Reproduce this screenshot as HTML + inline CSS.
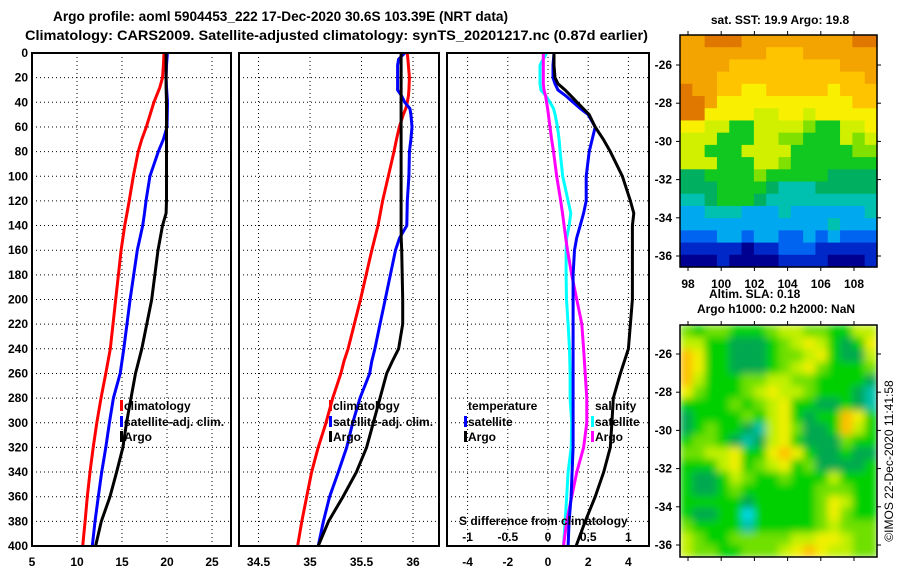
<!DOCTYPE html>
<html><head><meta charset="utf-8"><style>
body{margin:0;background:#fff}
svg{display:block;font-family:"Liberation Sans",sans-serif}
text{font-weight:bold;font-size:12px;fill:#000}
</style></head><body>
<svg id="c" width="900" height="580" viewBox="0 0 900 580">
<defs>
<filter id="bl" x="0" y="0" width="1" height="1"><feGaussianBlur stdDeviation="4" edgeMode="duplicate"/></filter>
<clipPath id="cp2"><rect x="680" y="325" width="197" height="232"/></clipPath>
</defs>
<rect width="900" height="580" fill="#fff"/>
<text x="53" y="21" textLength="455" lengthAdjust="spacingAndGlyphs" style="font-size:14px">Argo profile: aoml 5904453_222 17-Dec-2020 30.6S 103.39E (NRT data)</text>
<text x="25" y="40" textLength="623" lengthAdjust="spacingAndGlyphs" style="font-size:14px">Climatology: CARS2009. Satellite-adjusted climatology: synTS_20201217.nc (0.87d earlier)</text>
<g id="g"></g>
</svg>
<script>
// ---- profile data ----
const depthT=[0,10,20,28,40,60,70,80,100,120,130,140,160,200,240,260,280,300,320,340,360,380,400];
const tClim=[19.67,19.6,19.5,19.2,18.55,17.7,17.2,16.8,16.25,15.8,15.55,15.3,14.9,14.3,13.7,13.2,12.67,12.2,11.8,11.44,11.15,10.9,10.63];
const tSat=[20.04,19.95,19.9,19.95,20.06,20.0,19.6,19.03,18.1,17.67,17.5,17.3,16.7,15.9,15.2,14.8,14.04,13.6,13.2,12.74,12.37,12.0,11.7];
const tArgo=[19.9,19.9,19.9,19.9,19.95,19.95,19.95,19.95,19.95,19.95,19.9,19.5,19.0,18.3,17.2,16.5,16.0,15.5,15.1,14.4,13.67,12.7,12.07];
const depthS=[0,5,10,20,30,35,40,45,50,60,70,80,100,120,140,150,160,200,220,240,250,260,280,300,320,340,360,380,400];
const sClim=[35.945,35.95,35.955,35.965,35.96,35.955,35.945,35.93,35.906,35.867,35.84,35.816,35.76,35.705,35.66,35.63,35.6,35.49,35.43,35.37,35.33,35.3,35.22,35.155,35.08,35.016,34.968,34.92,34.88];
const sSat=[35.92,35.86,35.85,35.85,35.85,35.89,35.92,35.97,35.98,35.99,35.98,35.965,35.96,35.945,35.94,35.87,35.83,35.73,35.68,35.63,35.6,35.58,35.485,35.415,35.356,35.275,35.19,35.13,35.08];
const sArgo=[35.884,35.884,35.884,35.884,35.884,35.884,35.884,35.884,35.884,35.884,35.884,35.884,35.884,35.884,35.884,35.885,35.89,35.9,35.9,35.86,35.8,35.745,35.68,35.615,35.55,35.45,35.32,35.18,35.08];
const depthD=[0,10,20,25,30,35,40,45,50,60,70,80,100,120,130,140,150,160,180,200,220,240,260,280,300,320,340,360,380,400];
const dTSat=[0.3,0.25,0.25,0.35,0.5,0.9,1.25,1.6,2.0,2.35,2.2,2.05,1.9,1.9,1.77,1.6,1.43,1.32,1.25,1.25,1.25,1.25,1.25,1.25,1.25,1.25,1.2,1.15,1.05,1.0];
const dTArgo=[0.3,0.3,0.35,0.5,0.85,1.15,1.45,1.75,2.05,2.35,2.75,3.1,3.7,4.1,4.27,4.2,4.2,4.2,4.2,4.2,4.1,4.0,3.6,3.25,3.18,3.1,2.77,2.35,1.85,1.4];
const dSSat=[-0.018,-0.1,-0.1,-0.1,-0.088,-0.025,0.025,0.068,0.088,0.118,0.138,0.15,0.183,0.25,0.283,0.263,0.233,0.225,0.225,0.23,0.25,0.268,0.275,0.275,0.295,0.288,0.25,0.233,0.213,0.193];
const dSArgo=[-0.058,-0.058,-0.058,-0.058,-0.05,-0.03,-0.018,-0.005,0.005,0.025,0.045,0.068,0.108,0.158,0.18,0.2,0.22,0.243,0.295,0.358,0.42,0.443,0.463,0.483,0.483,0.443,0.358,0.295,0.233,0.193];
const tTicks=[5,10,15,20,25];
const sTicks=[34.5,35,35.5,36];
const dTicks=[-4,-2,0,2,4];
const dSTicks=[-1,-0.5,0,0.5,1];
const depthTicks=[0,20,40,60,80,100,120,140,160,180,200,220,240,260,280,300,320,340,360,380,400];
// ---- map data (rows north->south, 16 lon columns) ----
const sstRows=["BBCCCBBBBBBBBBCC","BBBBBBBAAABBBBBB","BBBBAAAAAAAAABBB","BBBAAAAAAAAAAAAB","CBBAA99AAAAA9AAA","CCB99999999999AA","CC99998899899999","9988668888766889","8886668877666878","8866688886666677","8886668876666666","5566667666665555","5556666544455555","4456665444444444","3344433343333334","3333333333334333","2223323322323222","1111101122211111","0001000011110001"];
const slaRows=["7677666788776688","8866555678986569","A966555677896558","A966555678976667","A866677887766665","9766678988766654","6666767896655654","5666676896566A96","5676654897556A86","6776545896555766","77889669A9655655","6668967896755556","6556876676668666","6556766666677766","6666656666679866","6556636666679766","7666646666678777","8766777778899877","8776677789A98877"];
const lonTicks=[98,100,102,104,106,108];
const latTicks=[-26,-28,-30,-32,-34,-36];
const sstPal={"0":"#000090","1":"#0028c8","2":"#0064f0","3":"#00a8f0","4":"#00c0b0","5":"#00b060","6":"#10c820","7":"#80e000","8":"#d0f000","9":"#f8f000","A":"#ffc400","B":"#f4a400","C":"#e07800"};
const slaPal={"3":"#00d8e8","4":"#00c0a8","5":"#00a850","6":"#00d000","7":"#70e000","8":"#c0f000","9":"#f0f000","A":"#ffc000","B":"#ff9800"};

const NS="http://www.w3.org/2000/svg";
const G=document.getElementById('g');
function mk(tag,at,txt,par){const e=document.createElementNS(NS,tag);for(const k in at)e.setAttribute(k,at[k]);if(txt!==undefined)e.textContent=txt;(par||G).appendChild(e);return e;}
const yD=d=>53+d*493/400;
const x1=v=>32+(v-5)*9.0;
const x2=v=>310+(v-35)*103;
const x3=v=>548+v*20.1;
const x3s=v=>548+v*80.4;
const panels=[[32,199,'temperature-panel'],[239,200,'salinity-panel'],[447,202,'difference-panel']];

depthTicks.forEach(d=>{
  const t=mk('text',{x:28,y:yD(d)+4,'text-anchor':'end'},String(d));
  
  
});
function grid(px,pw,xs,xf){
  depthTicks.slice(1,-1).forEach(d=>{
    const l=mk('line',{x1:px,x2:px+pw,y1:yD(d),y2:yD(d),stroke:'#000','stroke-width':1,'stroke-dasharray':'1,3'});
    
    
  });
  xs.forEach(v=>{const X=xf(v);if(X>px+2&&X<px+pw-2){
    const l=mk('line',{x1:X,x2:X,y1:53,y2:546,stroke:'#000','stroke-width':1,'stroke-dasharray':'1,3'});
    
    }
  });
}
grid(32,199,tTicks,x1);grid(239,200,sTicks,x2);grid(447,202,dTicks,x3);
function lab(xs,xf,y,nm){xs.forEach(v=>{
  const t=mk('text',{x:xf(v),y:y,'text-anchor':'middle'},String(v));
  
  
});}
lab(tTicks,x1,566,'temperature-tick-label');
lab(sTicks,x2,566,'salinity-tick-label');
lab(dTicks,x3,566,'t-difference-tick-label');
lab(dSTicks,x3s,541,'s-difference-tick-label');
function line(ds,vs,xf,col,nm){
  const pts=ds.map((d,i)=>xf(vs[i]).toFixed(1)+','+yD(d).toFixed(1)).join(' ');
  const p=mk('polyline',{points:pts,fill:'none',stroke:col,'stroke-width':3,'stroke-linejoin':'miter'});
  
  
}
line(depthT,tClim,x1,'#ff0000','temp-climatology-line');
line(depthT,tSat,x1,'#0000ff','temp-satellite-line');
line(depthT,tArgo,x1,'#000000','temp-argo-line');
line(depthS,sClim,x2,'#ff0000','sal-climatology-line');
line(depthS,sSat,x2,'#0000ff','sal-satellite-line');
line(depthS,sArgo,x2,'#000000','sal-argo-line');
line(depthD,dSSat,x3s,'#00ffff','s-diff-satellite-line');
line(depthD,dSArgo,x3s,'#ff00ff','s-diff-argo-line');
line(depthD,dTSat,x3,'#0000ff','t-diff-satellite-line');
line(depthD,dTArgo,x3,'#000000','t-diff-argo-line');
panels.forEach(p=>{
  const r=mk('rect',{x:p[0],y:53,width:p[1],height:493,fill:'none',stroke:'#000','stroke-width':2});
  
  
});
function leg(x,y,col,txt,nm){
  const r=mk('rect',{x:x,y:y-10,width:3,height:11,fill:col});
  
  
  const t=mk('text',{x:x+4,y:y},txt);
  
  
}
leg(120,410,'#ff0000','climatology','legend-climatology');
leg(120,426,'#0000ff','satellite-adj. clim.','legend-satellite-adj');
leg(120,441,'#000000','Argo','legend-argo');
leg(329,410,'#ff0000','climatology','legend2-climatology');
leg(329,426,'#0000ff','satellite-adj. clim.','legend2-satellite-adj');
leg(329,441,'#000000','Argo','legend2-argo');
let t=mk('text',{x:468,y:410},'temperature');


t=mk('text',{x:595,y:410},'salinity');


leg(464,426,'#0000ff','satellite','legend-t-satellite');
leg(464,441,'#000000','Argo','legend-t-argo');
leg(591,426,'#00ffff','satellite','legend-s-satellite');
leg(591,441,'#ff00ff','Argo','legend-s-argo');
t=mk('text',{x:459,y:525},'S difference from climatology');



function map(rows,pal,top,nm,latY0,smooth){
  const W=197,H=232,X=680,nr=rows.length,nc=rows[0].length;
  let par=G;
  if(smooth){
    const outer=mk('g',{'clip-path':'url(#cp2)'});
    
    
    par=mk('g',{filter:'url(#bl)'},undefined,outer);
  }
  rows.forEach((row,ri)=>{[...row].forEach((ch,ci)=>{
    const c=mk('rect',{x:(X+ci*W/nc).toFixed(2),y:(top+ri*H/nr).toFixed(2),width:(W/nc+0.6).toFixed(2),height:(H/nr+0.6).toFixed(2),fill:pal[ch]},undefined,par);
    
    
  });});
  const b=mk('rect',{x:X,y:top,width:W,height:H,fill:'none',stroke:'#000','stroke-width':1.5});
  
  
  const lonX=v=>688+(v-98)*16.6, latY=v=>latY0+(-26-v)*19.1;
  lonTicks.forEach(v=>{
    const a=mk('line',{x1:lonX(v),x2:lonX(v),y1:top-4,y2:top,stroke:'#000'});
    
    const b2=mk('line',{x1:lonX(v),x2:lonX(v),y1:top+H,y2:top+H+4,stroke:'#000'});
    
  });
  latTicks.forEach(v=>{
    const a=mk('line',{x1:676,x2:680,y1:latY(v),y2:latY(v),stroke:'#000'});
    
    const b2=mk('line',{x1:877,x2:881,y1:latY(v),y2:latY(v),stroke:'#000'});
    
    const l=mk('text',{x:672,y:latY(v)+4,'text-anchor':'end'},String(v));
    
  });
  return lonX;
}
const lonX=map(sstRows,sstPal,35,'sst-map',65,false);
map(slaRows,slaPal,325,'sla-map',354,true);
lonTicks.forEach(v=>{
  const l=mk('text',{x:lonX(v),y:288,'text-anchor':'middle'},String(v));
  
  
});
t=mk('text',{x:780,y:24,'text-anchor':'middle'},'sat. SST: 19.9 Argo: 19.8');

t=mk('text',{x:709,y:298},'Altim. SLA: 0.18');

t=mk('text',{x:776,y:313,'text-anchor':'middle'},'Argo h1000: 0.2 h2000: NaN');

t=mk('text',{x:0,y:0,'text-anchor':'middle',transform:'translate(893,461) rotate(-90)',style:'font-weight:normal;font-size:12px'},'©IMOS 22-Dec-2020 11:41:58');

</script>
</body></html>
